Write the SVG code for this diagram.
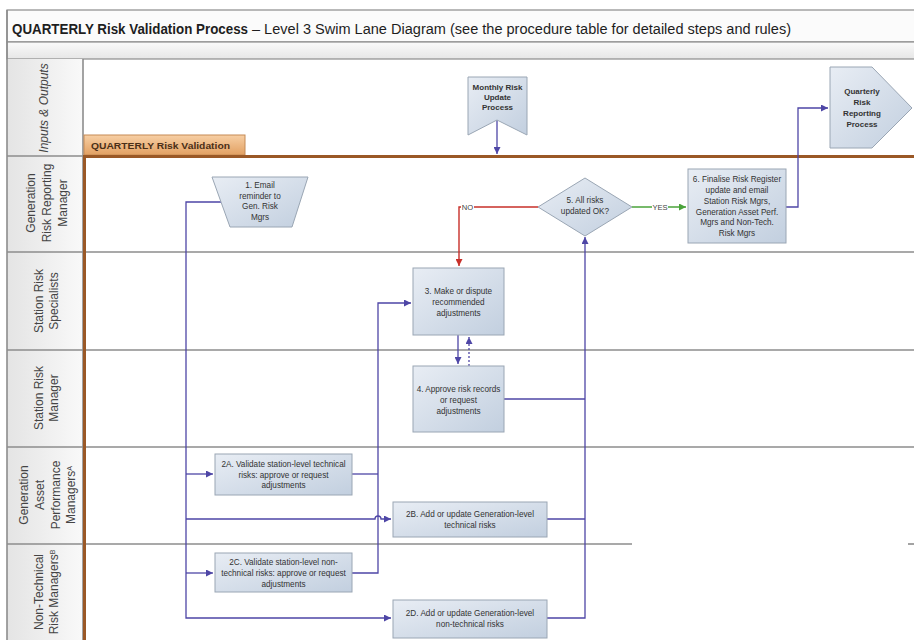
<svg xmlns="http://www.w3.org/2000/svg" width="914" height="640" viewBox="0 0 914 640">
  <defs>
    <linearGradient id="nodeFill" x1="0" y1="0" x2="1" y2="1">
      <stop offset="0" stop-color="#e8edf4"/>
      <stop offset="1" stop-color="#c2cfdf"/>
    </linearGradient>
    <linearGradient id="laneHead" x1="0" y1="0" x2="1" y2="0">
      <stop offset="0" stop-color="#e4e4e4"/>
      <stop offset="1" stop-color="#f9f9f9"/>
    </linearGradient>
    <linearGradient id="band" x1="0" y1="0" x2="0" y2="1">
      <stop offset="0" stop-color="#fafafa"/>
      <stop offset="1" stop-color="#e6e6e6"/>
    </linearGradient>
    <linearGradient id="tab" x1="0" y1="0" x2="0" y2="1">
      <stop offset="0" stop-color="#f7cfa4"/>
      <stop offset="1" stop-color="#e2a062"/>
    </linearGradient>
    <marker id="arrP" markerUnits="userSpaceOnUse" markerWidth="8" markerHeight="7" refX="7" refY="3.5" orient="auto">
      <path d="M0,0 L7,3.5 L0,7 z" fill="#4e46a6"/>
    </marker>
    <marker id="arrR" markerUnits="userSpaceOnUse" markerWidth="8" markerHeight="7" refX="7" refY="3.5" orient="auto">
      <path d="M0,0 L7,3.5 L0,7 z" fill="#c8302a"/>
    </marker>
    <marker id="arrG" markerUnits="userSpaceOnUse" markerWidth="8" markerHeight="7" refX="7" refY="3.5" orient="auto">
      <path d="M0,0 L7,3.5 L0,7 z" fill="#4aa33a"/>
    </marker>
  </defs>
  <style>
    .node { fill: url(#nodeFill); stroke: #9aa6b4; stroke-width: 1; }
    .nt { font-family: "Liberation Sans", Arial, sans-serif; font-size: 8.2px; fill: #333; text-anchor: middle; }
    .nb { font-family: "Liberation Sans", Arial, sans-serif; font-size: 8px; font-weight: bold; fill: #333; text-anchor: middle; }
    .lane { font-family: "Liberation Sans", Arial, sans-serif; font-size: 12px; fill: #444; text-anchor: middle; }
    .sep { stroke: #8c8c8c; stroke-width: 1.6; fill: none; }
    .conn { fill: none; stroke: #4e46a6; stroke-width: 1.3; }
    .lbl { font-family: "Liberation Sans", Arial, sans-serif; font-size: 7.6px; text-anchor: middle; }
  </style>

  <rect width="914" height="640" fill="#ffffff"/>

  <!-- title frame -->
  <g id="title">
    <rect x="7" y="10" width="912" height="32" fill="#fbfbfb" stroke="#8c8c8c" stroke-width="1.2"/>
    <rect x="7" y="42" width="912" height="17" fill="url(#band)" stroke="#8c8c8c" stroke-width="1.2"/>
    <text x="12" y="34" font-family="Liberation Sans, Arial, sans-serif" font-size="14" font-weight="bold" fill="#1e1e1e" textLength="236" lengthAdjust="spacingAndGlyphs">QUARTERLY Risk Validation Process</text>
    <text x="252" y="34" font-family="Liberation Sans, Arial, sans-serif" font-size="14" fill="#1e1e1e" textLength="539" lengthAdjust="spacingAndGlyphs">– Level 3 Swim Lane Diagram (see the procedure table for detailed steps and rules)</text>
  </g>

  <!-- lane header column -->
  <g id="lanes">
    <rect x="7" y="59" width="76" height="581" fill="url(#laneHead)"/>
    <line class="sep" x1="7" y1="10" x2="7" y2="640"/>
    <line class="sep" x1="83" y1="59" x2="83" y2="640"/>
    <line class="sep" x1="7" y1="156" x2="84" y2="156"/>
    <line class="sep" x1="7" y1="252" x2="914" y2="252"/>
    <line class="sep" x1="7" y1="350" x2="914" y2="350"/>
    <line class="sep" x1="7" y1="447" x2="914" y2="447"/>
    <line class="sep" x1="7" y1="544" x2="632" y2="544"/>
    <line class="sep" x1="908" y1="544" x2="914" y2="544"/>

    <text transform="rotate(-90 48 108)" x="48" y="108" class="lane" font-size="11" font-style="italic">Inputs &amp; Outputs</text>

    <text transform="rotate(-90 34.5 203)" x="34.5" y="203" class="lane">Generation</text>
    <text transform="rotate(-90 50.5 203)" x="50.5" y="203" class="lane">Risk Reporting</text>
    <text transform="rotate(-90 67 203)" x="67" y="203" class="lane">Manager</text>

    <text transform="rotate(-90 42.5 301)" x="42.5" y="301" class="lane">Station Risk</text>
    <text transform="rotate(-90 58 301)" x="58" y="301" class="lane">Specialists</text>

    <text transform="rotate(-90 42.5 398)" x="42.5" y="398" class="lane">Station Risk</text>
    <text transform="rotate(-90 58 398)" x="58" y="398" class="lane">Manager</text>

    <text transform="rotate(-90 27.5 495)" x="27.5" y="495" class="lane" font-size="11.5">Generation</text>
    <text transform="rotate(-90 43.5 495)" x="43.5" y="495" class="lane" font-size="11.5">Asset</text>
    <text transform="rotate(-90 59.5 495)" x="59.5" y="495" class="lane" font-size="11.5">Performance</text>
    <text transform="rotate(-90 75 495)" x="75" y="495" class="lane" font-size="11.5">Managers<tspan font-size="7" baseline-shift="super">A</tspan></text>

    <text transform="rotate(-90 42.5 592)" x="42.5" y="592" class="lane">Non-Technical</text>
    <text transform="rotate(-90 58 592)" x="58" y="592" class="lane">Risk Managers<tspan font-size="7" baseline-shift="super">B</tspan></text>
  </g>

  <!-- phase tab and boundary -->
  <g id="phase">
    <rect x="84" y="135" width="161" height="20" fill="url(#tab)" stroke="#c58a55" stroke-width="1"/>
    <text x="91" y="149" font-family="Liberation Sans, Arial, sans-serif" font-size="9.5" font-weight="bold" fill="#4a2f18" textLength="139" lengthAdjust="spacingAndGlyphs">QUARTERLY Risk Validation</text>
    <line x1="84" y1="156.5" x2="914" y2="156.5" stroke="#9a5826" stroke-width="3"/>
    <line x1="84.5" y1="155" x2="84.5" y2="640" stroke="#9a5826" stroke-width="3"/>
  </g>

  <!-- connectors -->
  <g id="connectors">
    <path class="conn" d="M221,202 H186 V618 H391" marker-end="url(#arrP)"/>
    <path class="conn" d="M186,474 H213" marker-end="url(#arrP)"/>
    <path class="conn" d="M186,519 H375 a3,3 0 0 1 6,0 H391" marker-end="url(#arrP)"/>
    <path class="conn" d="M186,573 H213" marker-end="url(#arrP)"/>
    <path class="conn" d="M352,474 H378"/>
    <path class="conn" d="M352,573 H378 V303 H411" marker-end="url(#arrP)"/>
    <path class="conn" d="M547,519 H585"/>
    <path class="conn" d="M504,399 H585"/>
    <path class="conn" d="M547,618 H585 V237" marker-end="url(#arrP)"/>
    <path class="conn" d="M458,335 V364" marker-end="url(#arrP)"/>
    <path class="conn" d="M469,366 V337" stroke-dasharray="2,2" marker-end="url(#arrP)"/>
    <path d="M538,207 H459 V266" fill="none" stroke="#c8302a" stroke-width="1.4" marker-end="url(#arrR)"/>
    <rect x="461" y="203" width="13" height="8" fill="#ffffff"/>
    <text x="467.5" y="210" class="lbl" fill="#444">NO</text>
    <path d="M632,207 H686" fill="none" stroke="#4aa33a" stroke-width="1.4" marker-end="url(#arrG)"/>
    <rect x="652" y="203" width="16" height="8" fill="#ffffff"/>
    <text x="660" y="210" class="lbl" fill="#444">YES</text>
    <path class="conn" d="M786,207 H798 V108 H828" marker-end="url(#arrP)"/>
    <path class="conn" d="M497,120 V154" marker-end="url(#arrP)"/>
  </g>

  <!-- inputs / outputs -->
  <g id="monthly">
    <polygon class="node" points="468,77 527,77 527,135 497,120 468,135"/>
    <text class="nb" x="497.5" y="90">Monthly Risk</text>
    <text class="nb" x="497.5" y="100">Update</text>
    <text class="nb" x="497.5" y="110">Process</text>
  </g>
  <g id="quarterly">
    <polygon class="node" points="830,67 872,67 912,108 872,148 830,148"/>
    <text class="nb" x="862" y="94">Quarterly</text>
    <text class="nb" x="862" y="105">Risk</text>
    <text class="nb" x="862" y="116">Reporting</text>
    <text class="nb" x="862" y="127">Process</text>
  </g>

  <!-- process steps -->
  <g id="step1">
    <polygon class="node" points="212,177 308,177 292,227 230,227"/>
    <text class="nt" x="260" y="188">1. Email</text>
    <text class="nt" x="260" y="199">reminder to</text>
    <text class="nt" x="260" y="209">Gen. Risk</text>
    <text class="nt" x="260" y="220">Mgrs</text>
  </g>
  <g id="step2A">
    <rect class="node" x="215" y="454" width="137" height="41"/>
    <text class="nt" x="283.5" y="467">2A. Validate station-level technical</text>
    <text class="nt" x="283.5" y="477.5">risks: approve or request</text>
    <text class="nt" x="283.5" y="488">adjustments</text>
  </g>
  <g id="step2B">
    <rect class="node" x="393" y="502" width="154" height="35"/>
    <text class="nt" x="470" y="517">2B. Add or update Generation-level</text>
    <text class="nt" x="470" y="528">technical risks</text>
  </g>
  <g id="step2C">
    <rect class="node" x="215" y="553" width="137" height="39"/>
    <text class="nt" x="283.5" y="565">2C. Validate station-level non-</text>
    <text class="nt" x="283.5" y="576">technical risks: approve or request</text>
    <text class="nt" x="283.5" y="587">adjustments</text>
  </g>
  <g id="step2D">
    <rect class="node" x="393" y="600" width="154" height="38"/>
    <text class="nt" x="470" y="616">2D. Add or update Generation-level</text>
    <text class="nt" x="470" y="627">non-technical risks</text>
  </g>
  <g id="step3">
    <rect class="node" x="413" y="268" width="91" height="67"/>
    <text class="nt" x="458.5" y="294">3. Make or dispute</text>
    <text class="nt" x="458.5" y="305">recommended</text>
    <text class="nt" x="458.5" y="316">adjustments</text>
  </g>
  <g id="step4">
    <rect class="node" x="413" y="366" width="91" height="66"/>
    <text class="nt" x="458.5" y="392">4. Approve risk records</text>
    <text class="nt" x="458.5" y="403">or request</text>
    <text class="nt" x="458.5" y="414">adjustments</text>
  </g>
  <g id="step5">
    <polygon class="node" points="585,178 632,207 585,236 538,207"/>
    <text class="nt" x="585" y="203">5. All risks</text>
    <text class="nt" x="585" y="214">updated OK?</text>
  </g>
  <g id="step6">
    <rect class="node" x="688" y="169" width="98" height="74"/>
    <text class="nt" x="737" y="182">6. Finalise Risk Register</text>
    <text class="nt" x="737" y="193">update and email</text>
    <text class="nt" x="737" y="204">Station Risk Mgrs,</text>
    <text class="nt" x="737" y="215">Generation Asset Perf.</text>
    <text class="nt" x="737" y="225">Mgrs and Non-Tech.</text>
    <text class="nt" x="737" y="236">Risk Mgrs</text>
  </g>
</svg>
